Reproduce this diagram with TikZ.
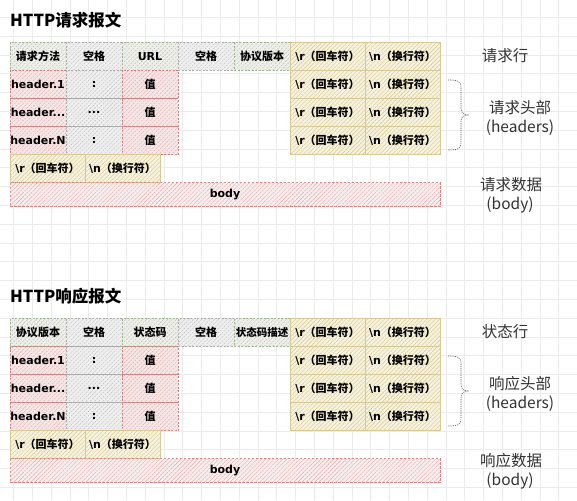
\documentclass[tikz,border=0pt]{standalone}
\usepackage{fontspec}
\setmainfont{DejaVu Sans}
\newfontfamily\cjk{Noto Sans CJK SC}
\usetikzlibrary{patterns.meta}
\newcommand\threedots{...}
\newcommand\crtxt{\textbackslash r{\cjk（回车符）}}
\newcommand\lftxt{\textbackslash n{\cjk（换行符）}}
\definecolor{gridc}{HTML}{EBEBEB}
\definecolor{greenB}{HTML}{9DB58A}
\definecolor{greenF}{HTML}{EDEFE8}
\definecolor{grayB}{HTML}{AAAAAA}
\definecolor{grayF}{HTML}{EFEFEF}
\definecolor{hatchG}{HTML}{BDBDBD}
\definecolor{redB}{HTML}{C98080}
\definecolor{redF}{HTML}{F6E6E6}
\definecolor{hatchR}{HTML}{D9A9A9}
\definecolor{yelB}{HTML}{D8CA98}
\definecolor{yelF}{HTML}{F7F2DC}
\definecolor{hatchY}{HTML}{D3C596}
\definecolor{bodyB}{HTML}{D48585}
\definecolor{bodyF}{HTML}{F9EDED}
\definecolor{labc}{HTML}{333333}
\begin{document}
\begin{tikzpicture}[x=1pt,y=-1pt,
  hatched/.style={postaction={pattern={Lines[angle=45,distance=3pt,line width=0.4pt]},pattern color=#1}},
  cell/.style={inner sep=0pt,outer sep=0pt,anchor=north west,minimum height=28pt,
    font=\fontsize{11}{12}\selectfont\bfseries,line width=0.7pt},
  gcell/.style={cell,minimum width=56pt,draw=greenB,dash pattern=on 2pt off 1.5pt,fill=greenF,hatched=hatchG},
  scell/.style={cell,minimum width=56pt,draw=grayB,dash pattern=on 2pt off 1.5pt,fill=grayF,hatched=hatchG},
  rcell/.style={cell,minimum width=56pt,draw=redB,dash pattern=on 2pt off 1.5pt,fill=redF,hatched=hatchR},
  ycell/.style={cell,minimum width=75pt,draw=yelB,fill=yelF,hatched=hatchY},
  bodycell/.style={cell,minimum width=430pt,minimum height=24pt,draw=bodyB,line width=0.9pt,
    dash pattern=on 2.5pt off 1.5pt,fill=bodyF,hatched=hatchR},
  titletext/.style={anchor=west,inner sep=0pt,font=\cjk\fontsize{16.5}{20}\selectfont\bfseries},
  labtext/.style={inner sep=0pt,text=labc,font=\cjk\fontsize{15.5}{18}\selectfont},
  bracec/.style={draw=black!65,line width=0.6pt,dash pattern=on 1.2pt off 1pt}
]
\useasboundingbox (0,0) rectangle (577,500);
\fill[white] (0,0) rectangle (577,500);
\foreach \k in {0,...,30} \draw[gridc,line width=0.5pt] (13.5+\k*18.8,0) -- (13.5+\k*18.8,500);
\foreach \k in {0,...,26} \draw[gridc,line width=0.5pt] (0,17.2+\k*18.8) -- (577,17.2+\k*18.8);

% ================= Request =================
\node[titletext] (qtitle) at (10,20) {HTTP请求报文};
\node[gcell] (q1) at (10,42.5) {\cjk 请求方法};
\node[scell] (q2) at (66,42.5) {\cjk 空格};
\node[gcell] (q3) at (122,42.5) {URL};
\node[scell] (q4) at (178,42.5) {\cjk 空格};
\node[gcell] (q5) at (234,42.5) {\cjk 协议版本};
\node[ycell] (q6) at (290,42.5) {\crtxt};
\node[ycell] (q7) at (365,42.5) {\lftxt};
\foreach \r/\a/\b/\yy in {1/header.1/:/70.5, 2/header\threedots/\threedots/98.5, 3/header.N/:/126.5}{
  \node[rcell] (qh\r a) at (10,\yy) {\a};
  \node[scell] (qh\r b) at (66,\yy) {\b};
  \node[rcell] (qh\r c) at (122,\yy) {\cjk 值};
  \node[ycell] (qh\r d) at (290,\yy) {\crtxt};
  \node[ycell] (qh\r e) at (365,\yy) {\lftxt};
}
\node[ycell] (qcr) at (10,154.5) {\crtxt};
\node[ycell] (qlf) at (85,154.5) {\lftxt};
\node[bodycell] (qbody) at (10,182.5) {body};

\draw[bracec] (448,80) .. controls (458,80) and (461,81) .. (461,88) -- (461,108)
  .. controls (461,113) and (463,115) .. (469,115)
  .. controls (463,115) and (461,117) .. (461,122) -- (461,142)
  .. controls (461,149) and (458,150) .. (448,150);

\node[labtext] (qlab1) at (505,56) {请求行};
\node[labtext] (qlab2) at (520,108) {请求头部};
\node[labtext] (qlab3) at (520,128) {(headers)};
\node[labtext] (qlab4) at (511,185) {请求数据};
\node[labtext] (qlab5) at (510,205) {(body)};

% ================= Response =================
\node[titletext] (ptitle) at (10,296) {HTTP响应报文};
\node[gcell] (p1) at (10,318.5) {\cjk 协议版本};
\node[scell] (p2) at (66,318.5) {\cjk 空格};
\node[gcell] (p3) at (122,318.5) {\cjk 状态码};
\node[scell] (p4) at (178,318.5) {\cjk 空格};
\node[gcell,font=\fontsize{10.5}{12}\selectfont\bfseries] (p5) at (234,318.5) {\cjk 状态码描述};
\node[ycell] (p6) at (290,318.5) {\crtxt};
\node[ycell] (p7) at (365,318.5) {\lftxt};
\foreach \r/\a/\b/\yy in {1/header.1/:/346.5, 2/header\threedots/\threedots/374.5, 3/header.N/:/402.5}{
  \node[rcell] (ph\r a) at (10,\yy) {\a};
  \node[scell] (ph\r b) at (66,\yy) {\b};
  \node[rcell] (ph\r c) at (122,\yy) {\cjk 值};
  \node[ycell] (ph\r d) at (290,\yy) {\crtxt};
  \node[ycell] (ph\r e) at (365,\yy) {\lftxt};
}
\node[ycell] (pcr) at (10,430.5) {\crtxt};
\node[ycell] (plf) at (85,430.5) {\lftxt};
\node[bodycell] (pbody) at (10,458.5) {body};

\draw[bracec] (448,356) .. controls (458,356) and (461,357) .. (461,364) -- (461,384)
  .. controls (461,389) and (463,391) .. (469,391)
  .. controls (463,391) and (461,393) .. (461,398) -- (461,418)
  .. controls (461,425) and (458,426) .. (448,426);

\node[labtext] (plab1) at (505,332) {状态行};
\node[labtext] (plab2) at (520,384) {响应头部};
\node[labtext] (plab3) at (520,404) {(headers)};
\node[labtext] (plab4) at (511,461) {响应数据};
\node[labtext] (plab5) at (510,481) {(body)};
\end{tikzpicture}
\end{document}
